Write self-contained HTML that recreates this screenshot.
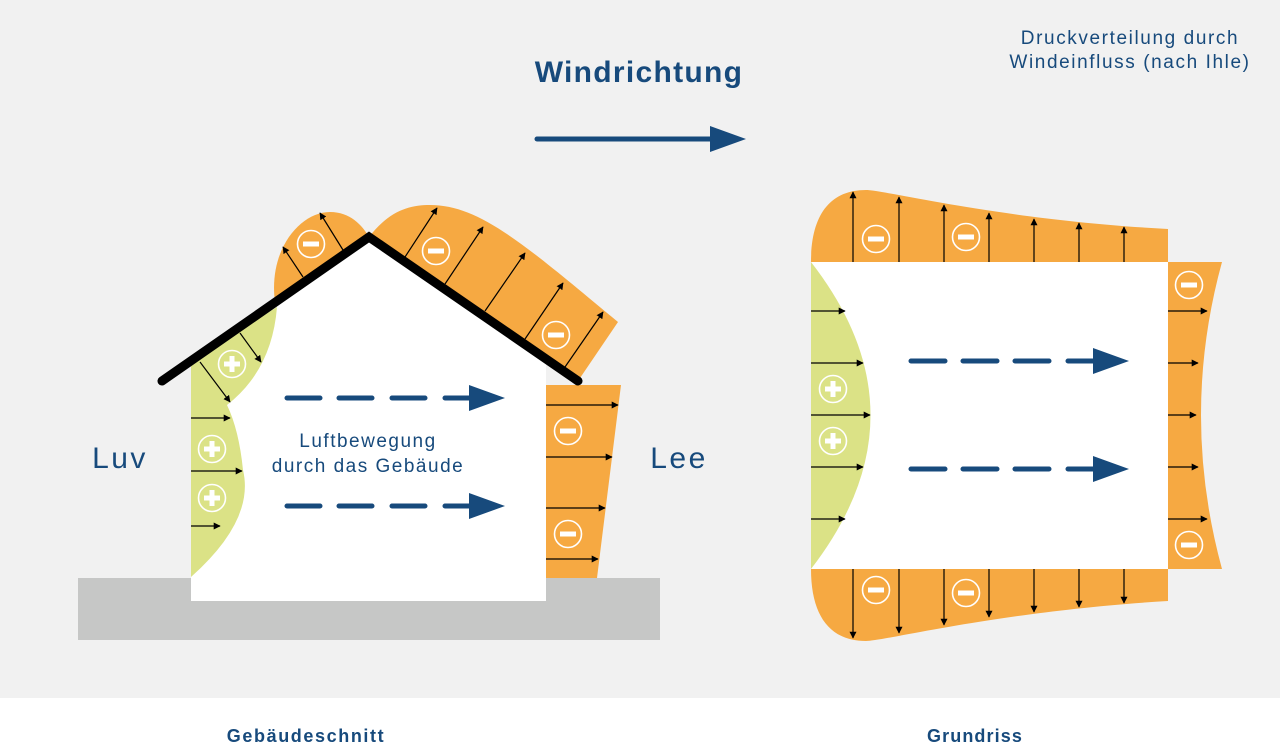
<!DOCTYPE html>
<html><head><meta charset="utf-8"><style>
html,body{margin:0;padding:0;background:#f1f1f1;}
svg{display:block;font-family:"Liberation Sans",sans-serif;}
</style></head><body>
<svg width="1280" height="743" viewBox="0 0 1280 743" xmlns="http://www.w3.org/2000/svg">
<defs>
<marker id="ah" viewBox="0 0 10 10" refX="9" refY="5" markerWidth="7" markerHeight="7" markerUnits="userSpaceOnUse" orient="auto"><path d="M0,0 L10,5 L0,10 Z" fill="#000"/></marker>
<g id="minus"><circle r="13.5" fill="none" stroke="#fff" stroke-width="1.6"/><rect x="-8" y="-2.5" width="16" height="5" fill="#fff"/></g>
<g id="plus"><circle r="13.5" fill="none" stroke="#fff" stroke-width="1.6"/><rect x="-8" y="-2.5" width="16" height="5" fill="#fff"/><rect x="-2.5" y="-8" width="5" height="16" fill="#fff"/></g>
</defs>
<rect width="1280" height="743" fill="#f1f1f1"/>
<rect y="698" width="1280" height="45" fill="#fff"/>

<!-- texts -->
<text x="639" y="82" text-anchor="middle" font-size="30" font-weight="bold" letter-spacing="1.3" fill="#174a7c">Windrichtung</text>
<text x="1130" y="44" text-anchor="middle" font-size="19" letter-spacing="1.6" fill="#174a7c">Druckverteilung durch</text>
<text x="1130" y="68" text-anchor="middle" font-size="19" letter-spacing="1.6" fill="#174a7c">Windeinfluss (nach Ihle)</text>
<text x="120" y="468" text-anchor="middle" font-size="30" letter-spacing="2.5" fill="#174a7c">Luv</text>
<text x="679" y="468" text-anchor="middle" font-size="30" letter-spacing="2.5" fill="#174a7c">Lee</text>
<text x="306" y="742" text-anchor="middle" font-size="18" font-weight="bold" letter-spacing="1.6" fill="#174a7c">Gebäudeschnitt</text>
<text x="975" y="742" text-anchor="middle" font-size="18" font-weight="bold" letter-spacing="1.1" fill="#174a7c">Grundriss</text>

<!-- wind arrow -->
<line x1="537" y1="139" x2="714" y2="139" stroke="#174a7c" stroke-width="5" stroke-linecap="round"/>
<path d="M710,126 L746,139 L710,152 Z" fill="#174a7c"/>

<!-- ground -->
<rect x="78" y="578" width="582" height="62" fill="#c6c7c6"/>
<!-- house -->
<path d="M191,601 L546,601 L546,358 L369,237 L191,361 Z" fill="#fff"/>
<!-- green -->
<path d="M191,577 Q255,520 243,470 Q239,430 227,405 Q272,370 277,307 L191,361 Z" fill="#dbe286"/>
<!-- orange roof left -->
<path d="M275,302 C268,250 300,212 330,212 C350,212 362,225 369,237 Z" fill="#f6a942"/>
<!-- orange roof right -->
<path d="M369,237 C390,210 410,205 430,205 C480,205 525,245 618,322 L578,381 Z" fill="#f6a942"/>
<!-- orange wall -->
<path d="M546,385 L621,385 L597,578 L546,578 Z" fill="#f6a942"/>

<g stroke="#000" stroke-width="1.2" marker-end="url(#ah)">
<line x1="191" y1="418" x2="230" y2="418"/>
<line x1="191" y1="471" x2="242" y2="471"/>
<line x1="191" y1="526" x2="220" y2="526"/>
<line x1="200" y1="362" x2="230" y2="402"/>
<line x1="240" y1="333" x2="261" y2="362"/>
<line x1="303" y1="277" x2="283" y2="247"/>
<line x1="343" y1="250" x2="320" y2="213"/>
<line x1="405" y1="257" x2="437" y2="208"/>
<line x1="445" y1="284" x2="483" y2="227"/>
<line x1="485" y1="311" x2="525" y2="253"/>
<line x1="525" y1="339" x2="563" y2="283"/>
<line x1="565" y1="367" x2="603" y2="312"/>
<line x1="546" y1="405" x2="618" y2="405"/>
<line x1="546" y1="457" x2="612" y2="457"/>
<line x1="546" y1="508" x2="605" y2="508"/>
<line x1="546" y1="559" x2="598" y2="559"/>
</g>

<!-- roof line -->
<path d="M162,381 L369,237 L578,381" fill="none" stroke="#000" stroke-width="9" stroke-linecap="round" stroke-linejoin="miter"/>

<use href="#minus" x="311" y="244"/>
<use href="#minus" x="436" y="251"/>
<use href="#minus" x="556" y="335"/>
<use href="#minus" x="568" y="431"/>
<use href="#minus" x="568" y="534"/>
<use href="#plus" x="232" y="364"/>
<use href="#plus" x="212" y="449"/>
<use href="#plus" x="212" y="498"/>

<!-- dashed arrows house -->
<g stroke="#174a7c" stroke-width="5" stroke-linecap="round" fill="none">
<path d="M287,398 H320 M339,398 H372 M392,398 H425 M445,398 H470"/>
<path d="M287,506 H320 M339,506 H372 M392,506 H425 M445,506 H470"/>
</g>
<path d="M469,385 L505,398 L469,411 Z" fill="#174a7c"/>
<path d="M469,493 L505,506 L469,519 Z" fill="#174a7c"/>

<text x="368" y="447" text-anchor="middle" font-size="19" letter-spacing="1.5" fill="#174a7c">Luftbewegung</text>
<text x="368" y="472" text-anchor="middle" font-size="19" letter-spacing="1.5" fill="#174a7c">durch das Gebäude</text>

<!-- plan -->
<rect x="811" y="262" width="357" height="307" fill="#fff"/>
<path d="M811,262 C811,215 830,190 866,190 C885,190 1000,220 1168,229 L1168,262 Z" fill="#f6a942"/>
<path d="M811,569 C811,616 830,641 866,641 C885,641 1000,611 1168,601 L1168,569 Z" fill="#f6a942"/>
<path d="M1168,262 L1222,262 Q1180,415 1222,569 L1168,569 Z" fill="#f6a942"/>
<path d="M811,262 Q930,415 811,569 Z" fill="#dbe286"/>

<g stroke="#000" stroke-width="1.2" marker-end="url(#ah)">
<line x1="853" y1="262" x2="853" y2="192"/>
<line x1="899" y1="262" x2="899" y2="197"/>
<line x1="944" y1="262" x2="944" y2="205"/>
<line x1="989" y1="262" x2="989" y2="213"/>
<line x1="1034" y1="262" x2="1034" y2="219"/>
<line x1="1079" y1="262" x2="1079" y2="223"/>
<line x1="1124" y1="262" x2="1124" y2="227"/>
<line x1="853" y1="569" x2="853" y2="638"/>
<line x1="899" y1="569" x2="899" y2="633"/>
<line x1="944" y1="569" x2="944" y2="625"/>
<line x1="989" y1="569" x2="989" y2="617"/>
<line x1="1034" y1="569" x2="1034" y2="612"/>
<line x1="1079" y1="569" x2="1079" y2="607"/>
<line x1="1124" y1="569" x2="1124" y2="603"/>
<line x1="811" y1="311" x2="845" y2="311"/>
<line x1="811" y1="363" x2="863" y2="363"/>
<line x1="811" y1="415" x2="870" y2="415"/>
<line x1="811" y1="467" x2="863" y2="467"/>
<line x1="811" y1="519" x2="845" y2="519"/>
<line x1="1168" y1="311" x2="1207" y2="311"/>
<line x1="1168" y1="363" x2="1198" y2="363"/>
<line x1="1168" y1="415" x2="1196" y2="415"/>
<line x1="1168" y1="467" x2="1198" y2="467"/>
<line x1="1168" y1="519" x2="1207" y2="519"/>
</g>

<use href="#minus" x="876" y="239"/>
<use href="#minus" x="966" y="237"/>
<use href="#minus" x="876" y="590"/>
<use href="#minus" x="966" y="593"/>
<use href="#minus" x="1189" y="285"/>
<use href="#minus" x="1189" y="545"/>
<use href="#plus" x="833" y="389"/>
<use href="#plus" x="833" y="441"/>

<g stroke="#174a7c" stroke-width="5" stroke-linecap="round" fill="none">
<path d="M911,361 H945 M963,361 H997 M1015,361 H1049 M1068,361 H1095"/>
<path d="M911,469 H945 M963,469 H997 M1015,469 H1049 M1068,469 H1095"/>
</g>
<path d="M1093,348 L1129,361 L1093,374 Z" fill="#174a7c"/>
<path d="M1093,456 L1129,469 L1093,482 Z" fill="#174a7c"/>
</svg>
</body></html>
